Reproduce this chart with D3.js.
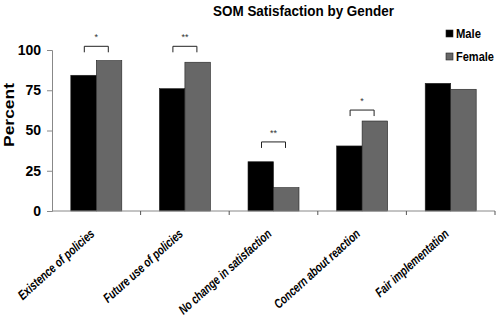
<!DOCTYPE html>
<html>
<head>
<meta charset="utf-8">
<script src="https://cdn.jsdelivr.net/npm/d3@7"></script>
<style>
  body { margin: 0; background: #fff; }
  text { font-family: "Liberation Sans", Arial, sans-serif; }
</style>
</head>
<body>
<svg id="chart"></svg>
<script>
// chart data
const categories = ["Existence of policies", "Future use of policies", "No change in satisfaction", "Concern about reaction", "Fair implementation"];
const seriesNames = ["Male", "Female"];
const maleValues = [84.3, 76, 30.6, 40.4, 79.3];
const femaleValues = [93.4, 92.4, 14.5, 55.9, 75.6];
const yTicks = [0, 25, 50, 75, 100];
// significance brackets: category, bracket level (percent), marker
const sigCategories = ["Existence of policies", "Future use of policies", "No change in satisfaction", "Concern about reaction"];
const sigLevels = [102.3, 102.3, 42.9, 62.7];
const sigMarks = ["*", "**", "**", "*"];

const width = 497, height = 333;
const margin = { top: 50, right: 2, bottom: 122, left: 52 };

const svg = d3.select("#chart")
  .attr("width", width)
  .attr("height", height);

const x = d3.scaleBand()
  .domain(categories)
  .range([margin.left, 495])
  .paddingInner(0)
  .paddingOuter(0);

const xSub = d3.scaleBand()
  .domain(seriesNames)
  .range([0, 51]);

const y = d3.scaleLinear()
  .domain([0, 100])
  .range([211, 50]);

const color = d3.scaleOrdinal().domain(seriesNames).range(["#000000", "#676767"]);

// bars
const rows = categories.map((c, i) => ({ cat: c, Male: maleValues[i], Female: femaleValues[i] }));
const groups = svg.append("g").selectAll("g")
  .data(rows)
  .enter().append("g")
  .attr("transform", d => `translate(${x(d.cat) + x.bandwidth() / 2 - 25.5},0)`);

groups.selectAll("rect")
  .data(d => seriesNames.map(s => ({ s: s, v: d[s] })))
  .enter().append("rect")
  .attr("x", d => xSub(d.s))
  .attr("width", xSub.bandwidth())
  .attr("y", d => y(d.v))
  .attr("height", d => y(0) - y(d.v))
  .attr("fill", d => color(d.s))
  .attr("stroke", "#222")
  .attr("stroke-width", 0.6);

// y axis
const yAxis = svg.append("g")
  .attr("transform", `translate(${margin.left},0)`)
  .call(d3.axisLeft(y).tickValues(yTicks).tickSize(5).tickPadding(6));
yAxis.select(".domain").attr("stroke", "#888");
yAxis.selectAll(".tick line").attr("stroke", "#888");
yAxis.selectAll(".tick text")
  .style("font-family", "'Liberation Sans', Arial, sans-serif")
  .style("font-size", "14px")
  .style("font-weight", "bold")
  .attr("fill", "#000");

// x axis with ticks at band edges
svg.append("line")
  .attr("x1", margin.left).attr("x2", x.range()[1])
  .attr("y1", y(0)).attr("y2", y(0))
  .attr("stroke", "#888");
svg.append("g").selectAll("line")
  .data(categories)
  .enter().append("line")
  .attr("x1", d => x(d) + x.bandwidth())
  .attr("x2", d => x(d) + x.bandwidth())
  .attr("y1", y(0)).attr("y2", y(0) + 4)
  .attr("stroke", "#555");

// category labels (condensed like the original)
const catLabels = svg.append("g").selectAll("text")
  .data(categories)
  .enter().append("text")
  .attr("transform", d => `translate(${x(d) + x.bandwidth() / 2 - 1},${y(0) + 24}) rotate(-42)`)
  .attr("text-anchor", "end")
  .style("font-size", "13px")
  .style("font-weight", "bold")
  .style("font-style", "italic")
  .text(d => d);
catLabels.each(function() {
  const len = this.getComputedTextLength();
  d3.select(this)
    .attr("textLength", len * 0.76)
    .attr("lengthAdjust", "spacingAndGlyphs");
});

// significance brackets
const sig = sigCategories.map((c, i) => ({ cat: c, level: sigLevels[i], mark: sigMarks[i] }));
const sigG = svg.append("g").selectAll("g")
  .data(sig)
  .enter().append("g");
sigG.append("path")
  .attr("d", d => {
    const cx = x(d.cat) + x.bandwidth() / 2;
    const top = y(d.level);
    return `M${cx - 12},${top + 6}V${top}H${cx + 12}V${top + 6}`;
  })
  .attr("fill", "none")
  .attr("stroke", "#222")
  .attr("stroke-width", 1);
sigG.append("text")
  .attr("x", d => x(d.cat) + x.bandwidth() / 2)
  .attr("y", d => y(d.level) - 6)
  .attr("text-anchor", "middle")
  .style("font-size", "9px")
  .attr("fill", "#333")
  .text(d => d.mark);

// title
svg.append("text")
  .attr("x", 213)
  .attr("y", 16)
  .attr("textLength", 181)
  .attr("lengthAdjust", "spacingAndGlyphs")
  .style("font-size", "15px")
  .style("font-weight", "bold")
  .text("SOM Satisfaction by Gender");

// y label
svg.append("text")
  .attr("transform", `translate(14,115) rotate(-90)`)
  .attr("x", -32)
  .attr("textLength", 64)
  .attr("lengthAdjust", "spacingAndGlyphs")
  .style("font-size", "15px")
  .style("font-weight", "bold")
  .text("Percent");

// legend
const legendWidths = [25, 38];
const legend = svg.append("g").selectAll("g")
  .data(seriesNames)
  .enter().append("g")
  .attr("transform", (d, i) => `translate(446,${30 + i * 23})`);
legend.append("rect")
  .attr("width", 7).attr("height", 7)
  .attr("fill", d => color(d))
  .attr("stroke", "#222")
  .attr("stroke-width", 0.6);
legend.append("text")
  .attr("x", 10).attr("y", 8)
  .attr("textLength", (d, i) => legendWidths[i])
  .attr("lengthAdjust", "spacingAndGlyphs")
  .style("font-size", "12px")
  .style("font-weight", "bold")
  .text(d => d);
</script>
</body>
</html>
